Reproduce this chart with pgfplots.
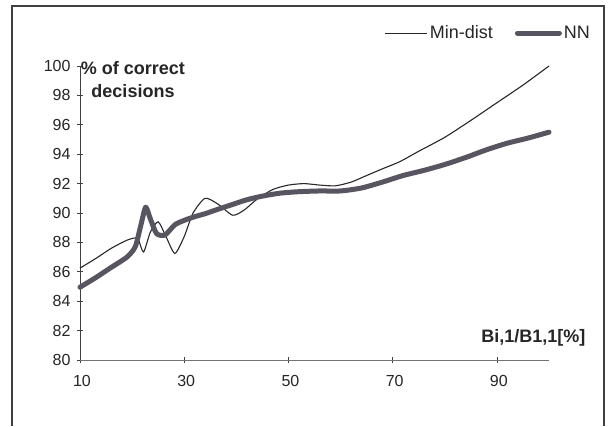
\documentclass[border=0pt]{standalone}
\usepackage{pgfplots}
\pgfplotsset{compat=1.18}
\usepackage{fontspec}
\setmainfont{Liberation Sans}
\definecolor{nncol}{RGB}{88,84,96}
\definecolor{thincol}{RGB}{40,40,44}
\begin{document}
\begin{tikzpicture}[x=1pt,y=1pt]
\path[use as bounding box] (0,0) rectangle (609,-426);
\fill[white] (0,0) rectangle (609,-426);
\draw[line width=1.4pt, black!75] (12,-426) -- (12,-6) -- (604,-6) -- (604,-426);
\begin{axis}[
  at={(80pt,-360pt)}, anchor=south west,
  scale only axis, width=469pt, height=294pt,
  xmin=10, xmax=100, ymin=80, ymax=100,
  axis lines=left,
  axis line style={-},
  x axis line style={line width=0.8pt, black!55},
  y axis line style={line width=0.8pt, black!75},
  xtick={10,30,50,70,90}, ytick={80,82,...,100},
  tick align=center, major tick length=6pt,
  tick style={black!75, line width=0.7pt},
  ticklabel style={font=\fontsize{16}{19}\selectfont, text=black!85},
  xticklabel style={yshift=-9pt, xshift=2pt},
  yticklabel style={xshift=-3pt},
  /pgf/number format/assume math mode=true,
  clip=false,
  legend style={at={(1.092,1.112)}, anchor=east, draw=none, fill=none, inner sep=0pt,
    font=\fontsize{18}{21}\selectfont, legend columns=2,
    /tikz/every even column/.append style={column sep=20pt},
    nodes={inner sep=2pt, text=black!85}},
  legend image code/.code={\draw[#1] (0pt,0pt) -- (42pt,0pt);},
]
\addplot[thincol, line width=1.1pt, smooth, tension=0.4] coordinates {
(10,86.25) (13,86.9) (16,87.6) (19,88.15) (20.5,88.3) (21.2,88.2) (22.2,87.35)
(23.5,88.7) (25.0,89.4) (26.5,88.4) (28.2,87.25) (30,88.4) (31.7,90.0) (34,91.0)
(36.5,90.6) (39.3,89.85) (41.5,90.2) (44,90.95) (47,91.6) (50,91.9) (53,92.0)
(56,91.9) (59,91.85) (62,92.1) (65,92.55) (68,93.0) (71.4,93.5) (75,94.2)
(80,95.15) (85,96.3) (90,97.5) (95,98.7) (100,100.0)};
\addlegendentry{Min-dist}
\addplot[nncol, line width=5pt, smooth, tension=0.4, line cap=round, line join=round] coordinates {
(10,84.95) (13,85.6) (16,86.3) (19,87.0) (20.6,87.7) (21.7,89.2) (22.6,90.4)
(23.5,89.6) (24.7,88.6) (26.3,88.5) (28.2,89.2) (30,89.5) (32,89.75) (34,89.95)
(36,90.2) (39,90.55) (42,90.9) (45,91.15) (48.4,91.35) (52,91.45) (56,91.5)
(60,91.5) (64,91.7) (68,92.1) (72,92.55) (76,92.9) (80,93.3) (84.2,93.8)
(88,94.3) (92,94.75) (96,95.1) (100,95.5)};
\addlegendentry{NN}
\node[anchor=east, font=\bfseries\fontsize{18}{21}\selectfont, text=black!85] at (rel axis cs:1.085,0.075) {Bi,1/B1,1[\%]};
\node[align=center, font=\bfseries\fontsize{18}{23}\selectfont, text=black!85] at (rel axis cs:0.113,0.954) {\% of correct\\decisions};
\end{axis}
\end{tikzpicture}
\end{document}
